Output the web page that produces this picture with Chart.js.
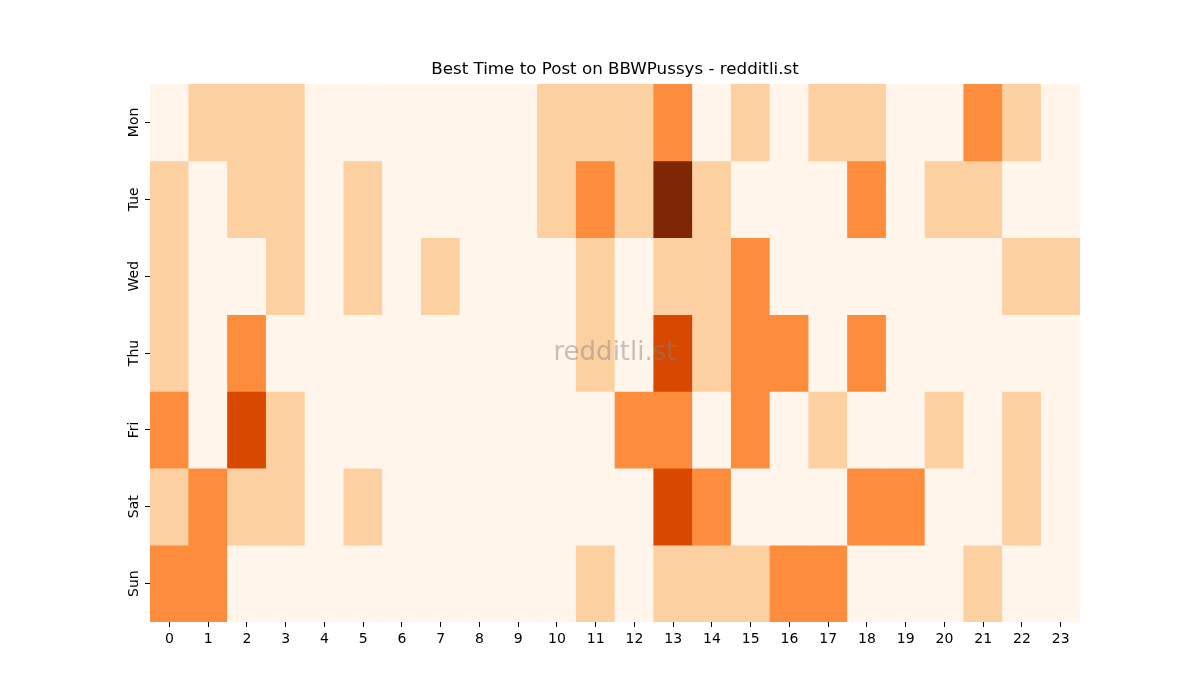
<!DOCTYPE html>
<html>
<head>
<meta charset="utf-8">
<script src="https://cdn.jsdelivr.net/npm/chart.js@4/dist/chart.umd.min.js"></script>
<style>
  html, body { margin: 0; padding: 0; background: #fff; }
  #wrap { width: 1200px; height: 700px; }
</style>
</head>
<body>
<div id="wrap"><canvas id="heatChart" width="1200" height="700"></canvas></div>
<script>
// heatmap: posting activity per weekday / hour
const hours = ['0','1','2','3','4','5','6','7','8','9','10','11','12','13','14','15','16','17','18','19','20','21','22','23'];
const days = ['Mon', 'Tue', 'Wed', 'Thu', 'Fri', 'Sat', 'Sun'];
const chartTitle = 'Best Time to Post on BBWPussys - redditli.st';

const mon = [0,1,1,1,0,0,0,0,0,0,1,1,1,2,0,1,0,1,1,0,0,2,1,0];
const tue = [1,0,1,1,0,1,0,0,0,0,1,2,1,4,1,0,0,0,2,0,1,1,0,0];
const wed = [1,0,0,1,0,1,0,1,0,0,0,1,0,1,1,2,0,0,0,0,0,0,1,1];
const thu = [1,0,2,0,0,0,0,0,0,0,0,1,0,3,1,2,2,0,2,0,0,0,0,0];
const fri = [2,0,3,1,0,0,0,0,0,0,0,0,2,2,0,2,0,1,0,0,1,0,1,0];
const sat = [1,2,1,1,0,1,0,0,0,0,0,0,0,3,2,0,0,0,2,2,0,0,1,0];
const sun = [2,2,0,0,0,0,0,0,0,0,0,1,0,1,1,1,2,2,0,0,0,1,0,0];
const rows = [mon, tue, wed, thu, fri, sat, sun];

// Oranges colormap steps for values 0..4
const oranges = ['#fff5eb', '#fdd0a2', '#fd8d3c', '#d94801', '#7f2704'];

const datasets = rows.map((vals, i) => ({
    label: days[i],
    data: vals.map(() => 1),
    backgroundColor: vals.map(v => oranges[v]),
    borderWidth: 0,
    barPercentage: 1,
    categoryPercentage: 1
}));

// title over the plot, rotated day labels, watermark
const extras = {
    id: 'extras',
    afterDraw(chart) {
        const c = chart.ctx;
        const y = chart.scales.y;
        const area = chart.chartArea;
        const cx = (area.left + area.right) / 2;
        c.save();
        c.fillStyle = '#000';
        c.textAlign = 'center';
        c.font = '16.7px "DejaVu Sans"';
        c.textBaseline = 'middle';
        c.fillText(chartTitle, cx, area.top - 14);

        c.font = '14px "DejaVu Sans"';
        c.textBaseline = 'bottom';
        days.forEach((d, i) => {
            const py = y.getPixelForValue(i + 0.5);
            c.save();
            c.translate(area.left - 9, py);
            c.rotate(-Math.PI / 2);
            c.fillText(d, 0, 0);
            c.restore();
        });

        c.font = '26px "DejaVu Sans"';
        c.fillStyle = 'rgba(128,128,128,0.45)';
        c.textBaseline = 'middle';
        c.fillText('redditli.st', cx, (area.top + area.bottom) / 2);
        c.restore();
    }
};

new Chart(document.getElementById('heatChart').getContext('2d'), {
    type: 'bar',
    data: { labels: hours, datasets: datasets },
    options: {
        responsive: false,
        animation: false,
        layout: { padding: { top: 84, right: 120, left: 0, bottom: 0 } },
        plugins: {
            legend: { display: false },
            tooltip: { enabled: false },
            title: { display: false }
        },
        scales: {
            x: {
                stacked: true,
                offset: true,
                grid: { display: true, drawOnChartArea: false, drawTicks: true, tickLength: 5, color: '#000', offset: false },
                border: { display: false },
                ticks: { color: '#000', font: { family: 'DejaVu Sans', size: 14 }, padding: 4, maxRotation: 0, autoSkip: false },
                afterFit(s) { s.height = 78; }
            },
            y: {
                stacked: true,
                reverse: true,
                min: 0,
                max: 7,
                grid: { display: true, drawOnChartArea: false, drawTicks: true, tickLength: 5, color: '#000' },
                border: { display: false },
                ticks: { display: false },
                afterBuildTicks(s) { s.ticks = days.map((d, i) => ({ value: i + 0.5 })); },
                afterFit(s) { s.width = 150; }
            }
        }
    },
    plugins: [extras]
});
</script>
</body>
</html>
